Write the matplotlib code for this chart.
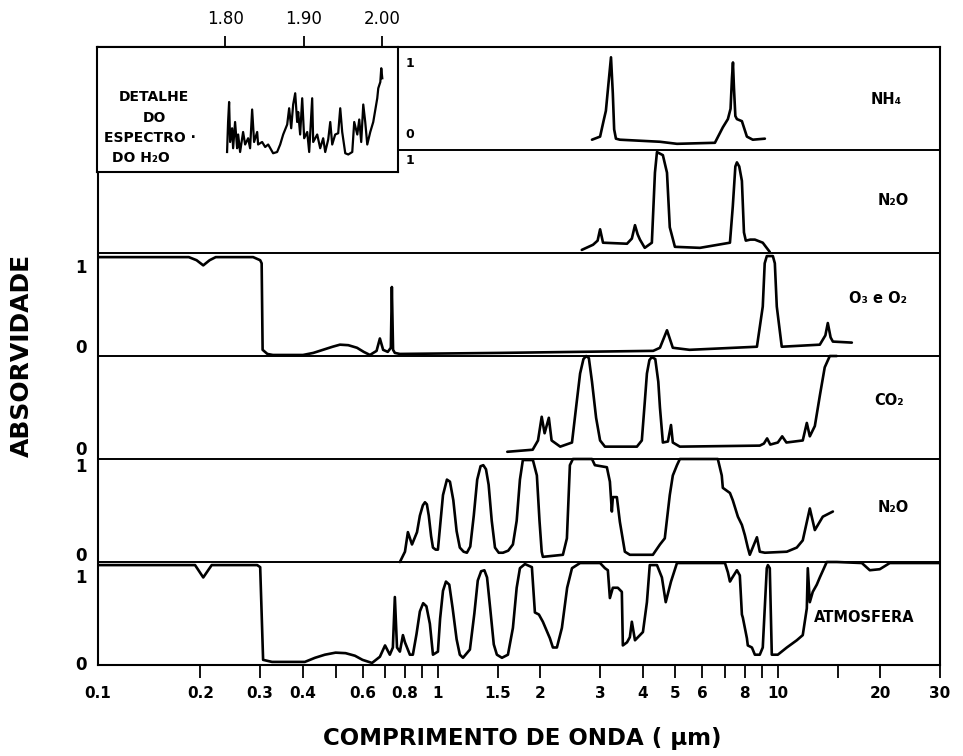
import matplotlib
matplotlib.use("Agg")
import matplotlib.pyplot as plt
import numpy as np

# Absorption spectra (wavelength in um, absorption 0..1), top panel first
nh4 = [(2.84, 0.10), (3.00, 0.13), (3.08, 0.30), (3.12, 0.38), (3.17, 0.62), (3.23, 0.90),
       (3.27, 0.55), (3.30, 0.20), (3.34, 0.11), (3.43, 0.10), (4.5, 0.08), (5.05, 0.06),
       (6.53, 0.07), (6.89, 0.22), (7.13, 0.30), (7.26, 0.40), (7.33, 0.70), (7.38, 0.85),
       (7.43, 0.60), (7.50, 0.33), (7.58, 0.30), (7.84, 0.28), (8.11, 0.13), (8.44, 0.10),
       (9.16, 0.11)]

n2o = [(2.65, 0.03), (2.86, 0.08), (2.95, 0.12), (3.00, 0.23), (3.06, 0.10), (3.60, 0.09),
       (3.72, 0.14), (3.80, 0.27), (3.87, 0.18), (3.93, 0.13), (4.06, 0.05), (4.26, 0.10),
       (4.35, 0.78), (4.41, 0.98), (4.59, 0.95), (4.72, 0.78), (4.81, 0.25), (4.98, 0.06),
       (5.90, 0.05), (7.23, 0.10), (7.37, 0.45), (7.50, 0.84), (7.58, 0.88), (7.70, 0.84),
       (7.84, 0.70), (7.95, 0.20), (8.05, 0.12), (8.30, 0.13), (8.56, 0.13), (9.03, 0.10),
       (9.47, 0.01)]

o3_o2 = [(0.100, 0.96), (0.185, 0.96), (0.195, 0.93), (0.204, 0.88), (0.213, 0.93),
         (0.222, 0.96), (0.286, 0.96), (0.300, 0.93), (0.303, 0.90), (0.305, 0.06),
         (0.315, 0.02), (0.327, 0.01), (0.401, 0.01), (0.430, 0.03), (0.459, 0.06),
         (0.490, 0.09), (0.515, 0.11), (0.545, 0.105), (0.578, 0.08), (0.605, 0.04),
         (0.631, 0.01), (0.660, 0.05), (0.675, 0.17), (0.690, 0.06), (0.712, 0.04),
         (0.727, 0.08), (0.732, 0.67), (0.738, 0.06), (0.747, 0.03), (0.773, 0.02),
         (1.52, 0.03), (4.30, 0.05), (4.50, 0.08), (4.72, 0.25), (4.91, 0.08), (5.5, 0.06),
         (8.68, 0.09), (9.03, 0.48), (9.15, 0.90), (9.28, 0.97), (9.67, 0.97), (9.80, 0.90),
         (9.93, 0.48), (10.27, 0.09), (13.29, 0.11), (13.8, 0.20), (14.03, 0.32), (14.3, 0.18),
         (14.52, 0.14), (16.51, 0.13)]

co2 = [(1.60, 0.07), (1.90, 0.09), (1.97, 0.18), (2.02, 0.41), (2.06, 0.25), (2.12, 0.40),
       (2.16, 0.18), (2.29, 0.12), (2.48, 0.16), (2.56, 0.55), (2.62, 0.83), (2.68, 0.97),
       (2.73, 1.00), (2.78, 0.98), (2.84, 0.75), (2.92, 0.40), (3.00, 0.18), (3.10, 0.12),
       (3.85, 0.12), (3.98, 0.18), (4.06, 0.55), (4.12, 0.83), (4.19, 0.96), (4.26, 0.99),
       (4.36, 0.97), (4.45, 0.75), (4.50, 0.50), (4.59, 0.16), (4.75, 0.17), (4.85, 0.33),
       (4.91, 0.16), (5.15, 0.12), (8.85, 0.13), (9.10, 0.15), (9.30, 0.20), (9.50, 0.14),
       (10.0, 0.16), (10.3, 0.22), (10.6, 0.16), (11.84, 0.18), (12.17, 0.35), (12.42, 0.22),
       (12.85, 0.32), (13.3, 0.62), (13.74, 0.89), (14.22, 1.00), (14.91, 1.00)]

h2o = [(0.773, 0.00), (0.800, 0.10), (0.816, 0.29), (0.839, 0.17), (0.868, 0.29), (0.885, 0.45),
       (0.903, 0.55), (0.916, 0.58), (0.928, 0.56), (0.940, 0.45), (0.955, 0.25), (0.967, 0.14),
       (0.985, 0.12), (1.000, 0.12), (1.015, 0.35), (1.035, 0.65), (1.063, 0.80), (1.085, 0.78),
       (1.110, 0.60), (1.135, 0.30), (1.160, 0.14), (1.190, 0.10), (1.217, 0.09), (1.245, 0.15),
       (1.275, 0.45), (1.305, 0.80), (1.335, 0.93), (1.360, 0.94), (1.385, 0.90), (1.410, 0.75),
       (1.440, 0.40), (1.472, 0.14), (1.510, 0.09), (1.554, 0.09), (1.610, 0.11), (1.662, 0.17),
       (1.705, 0.40), (1.743, 0.80), (1.778, 0.99), (1.903, 0.99), (1.955, 0.84), (1.990, 0.40),
       (2.020, 0.10), (2.036, 0.05), (2.332, 0.07), (2.396, 0.23), (2.445, 0.94), (2.495, 1.00),
       (2.840, 1.00), (2.896, 0.94), (3.141, 0.92), (3.206, 0.78), (3.249, 0.49), (3.271, 0.63),
       (3.361, 0.63), (3.430, 0.39), (3.548, 0.10), (3.670, 0.07), (4.290, 0.07), (4.500, 0.17),
       (4.650, 0.23), (4.810, 0.65), (4.910, 0.84), (5.050, 0.94), (5.150, 1.00), (6.660, 1.00),
       (6.840, 0.84), (6.890, 0.72), (7.230, 0.67), (7.370, 0.60), (7.630, 0.44), (7.840, 0.36),
       (8.000, 0.26), (8.160, 0.14), (8.270, 0.07), (8.680, 0.24), (8.850, 0.10), (9.160, 0.09),
       (10.63, 0.10), (11.37, 0.14), (11.84, 0.21), (12.42, 0.52), (12.85, 0.31), (13.56, 0.44),
       (14.52, 0.49)]

atmosfera = [(0.100, 0.97), (0.193, 0.97), (0.204, 0.85), (0.216, 0.97), (0.294, 0.97),
             (0.300, 0.95), (0.303, 0.50), (0.306, 0.05), (0.325, 0.03), (0.406, 0.03),
             (0.435, 0.07), (0.465, 0.10), (0.500, 0.12), (0.535, 0.115), (0.570, 0.09),
             (0.600, 0.05), (0.640, 0.02), (0.675, 0.08), (0.699, 0.19), (0.722, 0.10),
             (0.737, 0.17), (0.747, 0.66), (0.758, 0.17), (0.773, 0.13), (0.789, 0.29),
             (0.800, 0.22), (0.827, 0.10), (0.844, 0.10), (0.865, 0.30), (0.885, 0.52),
             (0.905, 0.60), (0.925, 0.57), (0.947, 0.40), (0.967, 0.10), (1.000, 0.13),
             (1.015, 0.45), (1.035, 0.72), (1.056, 0.81), (1.080, 0.78), (1.105, 0.55),
             (1.135, 0.25), (1.160, 0.10), (1.185, 0.07), (1.242, 0.15), (1.280, 0.50),
             (1.310, 0.82), (1.340, 0.91), (1.370, 0.92), (1.395, 0.85), (1.425, 0.55),
             (1.460, 0.20), (1.491, 0.10), (1.543, 0.07), (1.607, 0.10), (1.662, 0.36),
             (1.705, 0.75), (1.743, 0.94), (1.803, 0.98), (1.890, 0.95), (1.929, 0.51),
             (1.982, 0.49), (2.036, 0.42), (2.135, 0.26), (2.179, 0.17), (2.239, 0.17),
             (2.316, 0.36), (2.40, 0.75), (2.48, 0.94), (2.62, 0.99), (3.00, 0.99),
             (3.10, 0.94), (3.162, 0.92), (3.206, 0.65), (3.271, 0.75), (3.383, 0.75),
             (3.476, 0.71), (3.50, 0.19), (3.60, 0.22), (3.67, 0.27), (3.72, 0.42),
             (3.80, 0.24), (4.01, 0.32), (4.12, 0.61), (4.20, 0.97), (4.41, 0.97),
             (4.56, 0.85), (4.68, 0.61), (4.85, 0.81), (5.05, 0.99), (6.99, 0.99),
             (7.13, 0.90), (7.23, 0.81), (7.32, 0.84), (7.58, 0.92), (7.73, 0.87),
             (7.84, 0.49), (7.89, 0.46), (8.11, 0.26), (8.16, 0.19), (8.39, 0.17),
             (8.56, 0.10), (8.85, 0.10), (9.03, 0.17), (9.28, 0.94), (9.35, 0.97),
             (9.47, 0.94), (9.60, 0.10), (10.0, 0.10), (10.63, 0.17), (11.37, 0.24),
             (11.84, 0.29), (12.17, 0.55), (12.25, 0.94), (12.42, 0.61), (12.67, 0.71),
             (13.02, 0.78), (13.29, 0.85), (13.93, 1.00), (14.91, 1.00), (17.67, 0.99),
             (18.65, 0.92), (19.95, 0.93), (21.35, 0.99), (30.0, 0.99)]

# Fine structure of the H2O band near 1.9 um (relative units)
h2o_detail = [(1.8025, 0.16), (1.8038, 0.40), (1.8051, 0.56), (1.8064, 0.24), (1.8089, 0.35),
              (1.8102, 0.19), (1.8127, 0.40), (1.8153, 0.19), (1.8166, 0.30), (1.8191, 0.16),
              (1.8229, 0.32), (1.8255, 0.22), (1.8293, 0.27), (1.8318, 0.19), (1.8344, 0.50),
              (1.8369, 0.24), (1.8408, 0.32), (1.8420, 0.22), (1.8471, 0.24), (1.8510, 0.20),
              (1.8548, 0.22), (1.8611, 0.15), (1.8662, 0.16), (1.8701, 0.22), (1.8739, 0.30),
              (1.8790, 0.38), (1.8815, 0.51), (1.8841, 0.35), (1.8866, 0.54), (1.8892, 0.63),
              (1.8917, 0.40), (1.8930, 0.48), (1.8955, 0.30), (1.8981, 0.59), (1.9006, 0.27),
              (1.9045, 0.32), (1.9070, 0.16), (1.9108, 0.59), (1.9121, 0.24), (1.9172, 0.30),
              (1.9210, 0.19), (1.9248, 0.27), (1.9274, 0.16), (1.9312, 0.26), (1.9338, 0.40),
              (1.9363, 0.22), (1.9401, 0.30), (1.9439, 0.31), (1.9465, 0.51), (1.9490, 0.32),
              (1.9529, 0.15), (1.9567, 0.14), (1.9618, 0.16), (1.9643, 0.40), (1.9682, 0.30),
              (1.9707, 0.42), (1.9732, 0.24), (1.9758, 0.54), (1.9783, 0.40), (1.9809, 0.22),
              (1.9847, 0.32), (1.9885, 0.40), (1.9936, 0.59), (1.9949, 0.67), (1.9975, 0.72),
              (1.9987, 0.83), (2.0000, 0.75)]

spectra = [nh4, n2o, o3_o2, co2, h2o, atmosfera]
panel_labels = ["NH₄", "N₂O", "O₃ e O₂", "CO₂", "N₂O", "ATMOSFERA"]
label_pos = [(20.9, 5.49), (21.8, 4.51), (19.7, 3.56), (21.3, 2.57), (21.8, 1.53), (18.0, 0.46)]

tick_pos = [0.2, 0.3, 0.4, 0.5, 0.6, 0.7, 0.8, 0.9, 1, 1.5, 2, 3, 4, 5, 6, 7, 8, 9, 10, 15, 20, 30]
tick_lab = ["0.2", "0.3", "0.4", "", "0.6", "", "0.8", "", "1", "1.5", "2", "3", "4", "5", "6",
            "", "8", "", "10", "", "20", "30"]

detail_ticks = [1.80, 1.90, 2.00]
detail_tick_lab = ["1.80", "1.90", "2.00"]

BOLD = dict(fontweight="bold", family="DejaVu Sans")

fig = plt.figure(figsize=(9.63, 7.56), dpi=100)
fig.patch.set_facecolor("white")

ax = fig.add_axes([98 / 963, 1 - 665 / 756, 842 / 963, 618 / 756])
ax.set_xscale("log")
ax.set_xlim(0.1, 30)
ax.set_ylim(0, 6)

for i, spec in enumerate(spectra):
    offset = 5 - i
    wl = np.array([p[0] for p in spec])
    ab = np.array([p[1] for p in spec])
    ax.plot(wl, ab + offset, color="black", lw=1.9, solid_joinstyle="round",
            solid_capstyle="round", zorder=3)
    ax.text(*label_pos[i], panel_labels[i], ha="center", va="center", fontsize=10.5, **BOLD)

for y in range(1, 6):
    ax.axhline(y, color="black", lw=1.4, zorder=2)

for s in ax.spines.values():
    s.set_linewidth(1.5)

ax.set_yticks([])
ax.set_xticks(tick_pos)
ax.set_xticklabels(tick_lab)
ax.xaxis.set_minor_locator(matplotlib.ticker.NullLocator())
ax.tick_params(axis="x", direction="out", length=9, width=1.3, pad=6, labelsize=11)
for t in ax.get_xticklabels():
    t.set_fontweight("bold")
ax.text(0.1, -0.034, "0.1", transform=ax.get_xaxis_transform(), ha="center", va="top",
        fontsize=11, **BOLD)

# Panel scale marks on the left (and right of the detail box)
left_marks = [(3.85, "1"), (3.08, "0"), (2.09, "0"), (1.92, "1"), (1.06, "0"), (0.84, "1"), (0.0, "0")]
for y, s in left_marks:
    ax.text(-0.02, y, s, transform=ax.get_yaxis_transform(), ha="center", va="center",
            fontsize=12, **BOLD)
inner_marks = [(5.84, "1"), (5.15, "0"), (4.90, "1")]
for y, s in inner_marks:
    ax.text(0.3705, y, s, transform=ax.get_yaxis_transform(), ha="center", va="center",
            fontsize=9, **BOLD)

# Detail box of the H2O spectrum
ins = fig.add_axes([97 / 963, 1 - 172 / 756, 301 / 963, 125 / 756], zorder=5)
ins.set_facecolor("white")
ins.set_xlim(1.637, 2.020)
ins.set_ylim(0, 1)
dw = [p[0] for p in h2o_detail]
da = [p[1] for p in h2o_detail]
ins.plot(dw, da, color="black", lw=1.6, solid_joinstyle="round")
ins.set_yticks([])
ins.xaxis.tick_top()
ins.set_xticks(detail_ticks)
ins.set_xticklabels(detail_tick_lab)
ins.tick_params(axis="x", direction="out", length=8, width=1.3, pad=6, labelsize=12)
for s in ins.spines.values():
    s.set_linewidth(1.5)
for txt, xc, yc in [("DETALHE", 0.19, 0.60), ("DO", 0.19, 0.43), ("ESPECTRO ·", 0.175, 0.27),
                    ("DO H₂O", 0.145, 0.11)]:
    ins.text(xc, yc, txt, transform=ins.transAxes, ha="center", va="center", fontsize=10, **BOLD)

fig.text(22 / 963, 1 - 355 / 756, "ABSORVIDADE", rotation=90, ha="center", va="center",
         fontsize=18, **BOLD)
fig.text(522 / 963, 1 - 738 / 756, "COMPRIMENTO DE ONDA ( µm)", ha="center", va="center",
         fontsize=16.5, **BOLD)

fig.savefig("out.png", dpi=100, facecolor="white")
